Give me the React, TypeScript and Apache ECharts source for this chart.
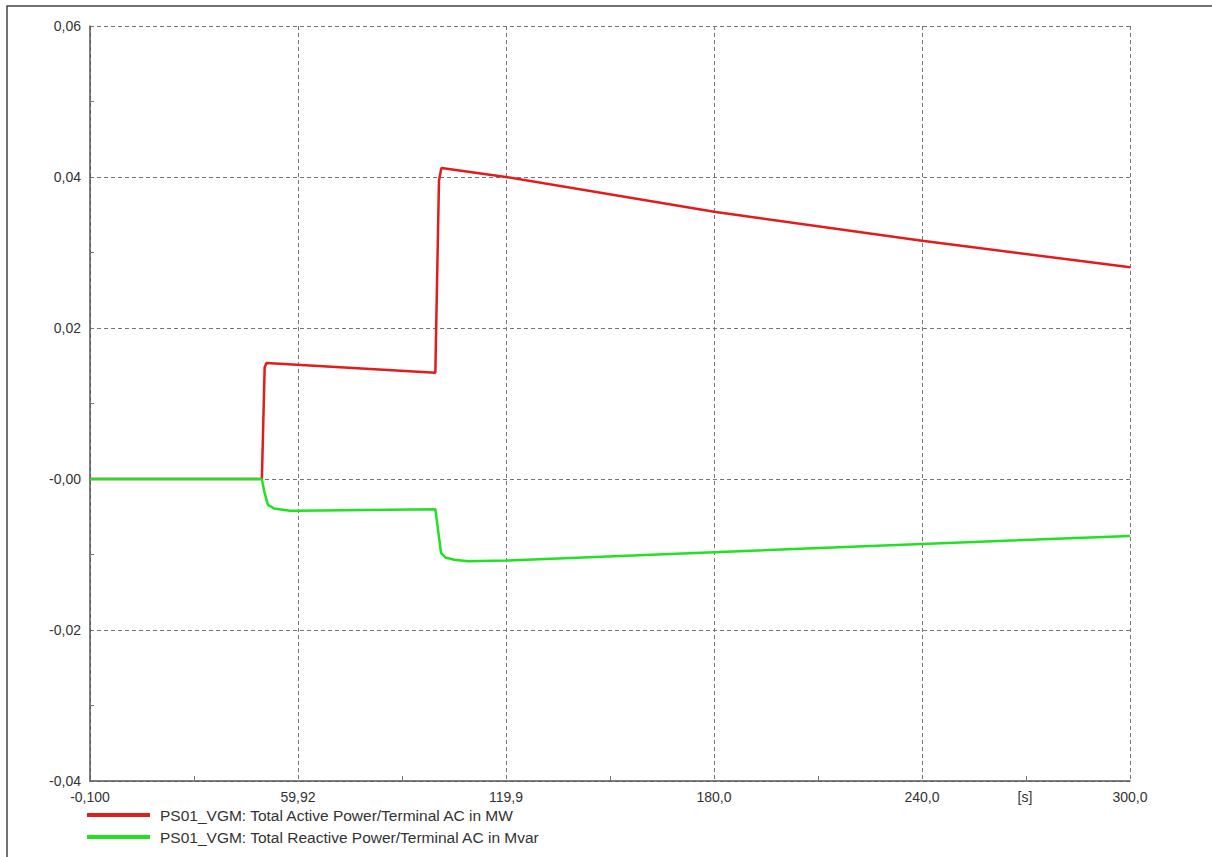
import React, { useEffect, useRef } from "react";
import * as echarts from "echarts";

// x axis: time in s
const xMin = -0.1;
const xMax = 300;
const xStep = 60.02;
const xTickLabels = ["-0,100", "59,92", "119,9", "180,0", "240,0", "300,0"];
const yTickLabels: Record<string, string> = {
  "0.06": "0,06",
  "0.04": "0,04",
  "0.02": "0,02",
  "0": "-0,00",
  "-0.02": "-0,02",
  "-0.04": "-0,04",
};

const activeName = "PS01_VGM: Total Active Power/Terminal AC in MW";
const reactiveName = "PS01_VGM: Total Reactive Power/Terminal AC in Mvar";

const activeT = [-0.1, 49.5, 50.3, 50.8, 99.55, 100.6, 101.3, 119.9, 180, 240, 300];
const activeV = [0, 0, 0.0148, 0.01535, 0.01408, 0.0395, 0.0412, 0.04, 0.0354, 0.03156, 0.02804];

const reactiveT = [-0.1, 49.5, 50.1, 51.2, 53, 57.6, 59.92, 99.55, 101.2, 102.5, 105, 109, 119.9, 180, 240, 300];
const reactiveV = [0, 0, -0.0015, -0.0034, -0.0039, -0.0042, -0.0042, -0.004, -0.0098, -0.0104, -0.0107, -0.0109, -0.0108, -0.0097, -0.0086, -0.00755];

const shift = (t: number) => t - xMin;

export default function App() {
  const ref = useRef<HTMLDivElement>(null);
  useEffect(() => {
    if (!ref.current) return;
    const chart = echarts.init(ref.current, undefined, { renderer: "svg" });
    const font = "'Liberation Sans', Arial, sans-serif";
    chart.setOption({
      animation: false,
      backgroundColor: "#ffffff",
      grid: { left: 90, top: 26, right: 82, bottom: 76, containLabel: false },
      legend: {
        orient: "vertical",
        left: 82,
        top: 802,
        padding: 5,
        itemWidth: 63,
        itemHeight: 4,
        itemGap: 6,
        icon: "rect",
        textStyle: { fontFamily: font, fontSize: 15.5, color: "#333", padding: [0, 0, 0, 5] },
        data: [activeName, reactiveName],
      },
      xAxis: {
        type: "value",
        min: 0,
        max: shift(xMax),
        interval: xStep,
        axisLine: { show: true, onZero: false, lineStyle: { color: "#555", width: 1.5 } },
        axisTick: { show: true, inside: true, length: 0 },
        minorTick: { show: true, splitNumber: 2, length: 5, lineStyle: { color: "#777", width: 1 } },
        splitLine: { show: true, lineStyle: { color: "#777", type: [4, 3], width: 1 } },
        axisLabel: {
          margin: 9,
          fontFamily: font,
          fontSize: 14,
          color: "#333",
          showMinLabel: true,
          showMaxLabel: true,
          formatter: (v: number) => xTickLabels[Math.round(v / xStep)] ?? "",
        },
      },
      yAxis: {
        type: "value",
        min: -0.04,
        max: 0.06,
        interval: 0.02,
        axisLine: { show: true, onZero: false, lineStyle: { color: "#555", width: 1.5 } },
        axisTick: { show: true, inside: true, length: 0 },
        minorTick: { show: true, splitNumber: 2, length: 4, lineStyle: { color: "#777", width: 1 } },
        splitLine: { show: true, lineStyle: { color: "#777", type: [4, 3], width: 1 } },
        axisLabel: {
          margin: 9,
          fontFamily: font,
          fontSize: 14,
          color: "#333",
          formatter: (v: number) => yTickLabels[String(Math.round(v * 100) / 100)] ?? "",
        },
      },
      graphic: [
        {
          type: "rect",
          z: -1,
          silent: true,
          shape: { x: 7, y: 6, width: 1400, height: 1000 },
          style: { fill: "none", stroke: "#444", lineWidth: 1.5 },
        },
        {
          type: "text",
          x: 1025,
          y: 797,
          style: {
            text: "[s]",
            fontFamily: font,
            fontSize: 14,
            fill: "#333",
            align: "center",
            verticalAlign: "middle",
          },
        },
      ],
      series: [
        {
          name: activeName,
          type: "line",
          showSymbol: false,
          color: "#e21b1b",
          lineStyle: { width: 2.5, color: "#e21b1b" },
          data: activeT.map((t, i) => [shift(t), activeV[i]]),
        },
        {
          name: reactiveName,
          type: "line",
          showSymbol: false,
          color: "#22e022",
          lineStyle: { width: 2.5, color: "#22e022" },
          data: reactiveT.map((t, i) => [shift(t), reactiveV[i]]),
        },
      ],
    });
    return () => chart.dispose();
  }, []);
  return (
    <div
      ref={ref}
      style={{ position: "fixed", left: 0, top: 0, width: 1212, height: 857, background: "#fff" }}
    />
  );
}
